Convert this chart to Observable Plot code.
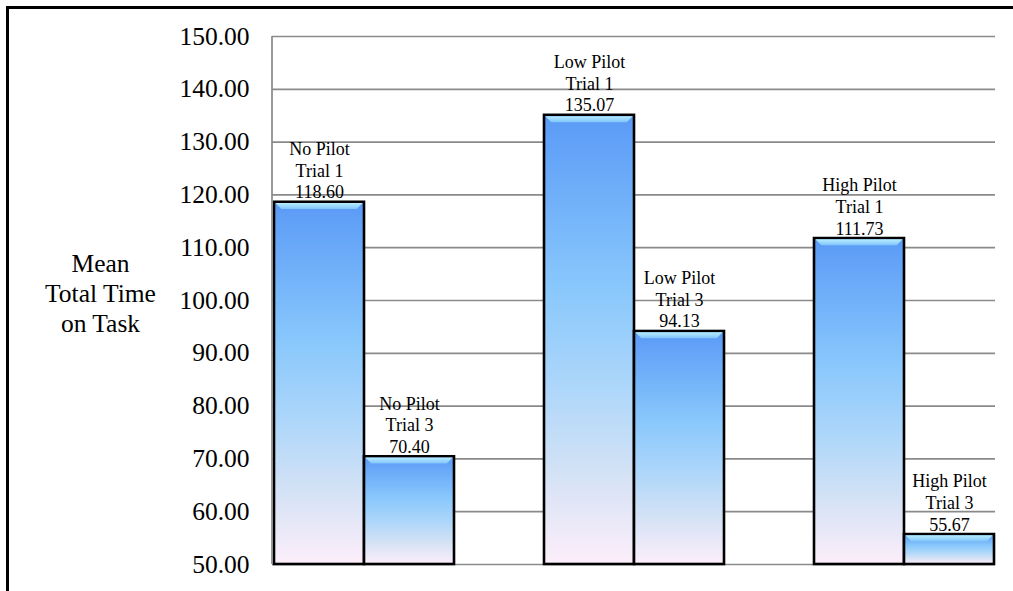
<!DOCTYPE html>
<html>
<head>
<meta charset="utf-8">
<script src="https://cdn.jsdelivr.net/npm/d3@7"></script>
<script src="https://cdn.jsdelivr.net/npm/@observablehq/plot@0.6"></script>
<style>
  html, body { margin: 0; padding: 0; background: #fff; overflow: hidden; }
  #wrap { position: relative; width: 1013px; height: 591px; overflow: hidden; }
  #border { position: absolute; left: 6px; top: 6px; width: 1100px; height: 700px; border-top: 3px solid #000; border-left: 3px solid #000; }
  #chart { position: absolute; left: 0; top: 0; }
  #chart svg, #chart svg text { font-family: 'Liberation Serif', 'Times New Roman', serif !important; }
</style>
</head>
<body>
<div id="wrap"><div id="border"></div><div id="chart"></div></div>
<script>
const groups = ["No Pilot", "Low Pilot", "High Pilot"];
const trials = ["Trial 1", "Trial 3"];
const trial1Values = [118.60, 135.07, 111.73];
const trial3Values = [70.40, 94.13, 55.67];
const yTicks = [50, 60, 70, 80, 90, 100, 110, 120, 130, 140, 150];
const yLabel = "Mean\nTotal Time\non Task";

const seriesValues = [trial1Values, trial3Values];
const data = groups.flatMap((g, i) => trials.map((t, j) => ({
  group: g, trial: t, value: seriesValues[j][i], key: `${g} ${t}`
})));
// band domain: the two trials of each group, with an empty slot between groups
const xDomain = groups.flatMap((g, i) => [...(i ? [`gap ${i}`] : []), ...trials.map(t => `${g} ${t}`)]);
const fmt = d3.format(".2f");
const font = "'Liberation Serif', 'Times New Roman', serif";

const plot = Plot.plot({
  width: 1013,
  height: 591,
  marginLeft: 272,
  marginRight: 18,
  marginTop: 36,
  marginBottom: 27,
  style: { fontFamily: font, background: "transparent", overflow: "visible" },
  x: { domain: xDomain, padding: 0, axis: null },
  y: { domain: [yTicks[0], yTicks[yTicks.length - 1]], ticks: yTicks, tickFormat: fmt, tickSize: 0, tickPadding: 23, label: null, fontSize: 25.5 },
  marks: [
    Plot.ruleY(yTicks, { stroke: "#8a8a8a", strokeWidth: 1.7 }),
    Plot.barY(data, {
      x: "key", y1: yTicks[0], y2: "value",
      fill: "url(#barGrad)", stroke: "#000", strokeWidth: 2.6,
      className: "bars"
    }),
    Plot.text(data, {
      x: "key", y: "value",
      text: d => `${d.group}\n${d.trial}\n${fmt(d.value)}`,
      lineAnchor: "bottom", lineHeight: 1.2, dy: -4,
      fontSize: 18, fill: "#000", fontFamily: font
    }),
    Plot.text([yLabel], {
      frameAnchor: "left", text: d => d, dx: -172, dy: -8,
      textAnchor: "middle", lineAnchor: "middle", lineHeight: 1.17,
      fontSize: 25.5, fill: "#000", fontFamily: font
    })
  ]
});

const svg = d3.select(plot);
svg.selectAll("g[aria-label='y-axis tick label'] text, g[aria-label='y-axis'] text")
  .attr("fill", "#000").style("font-size", "25.5px");

// gradient definitions
const defs = svg.insert("defs", ":first-child");
const g1 = defs.append("linearGradient").attr("id", "barGrad").attr("x1", 0).attr("y1", 0).attr("x2", 0).attr("y2", 1);
[[0, "#5a9af6"], [0.38, "#88c7fc"], [0.6, "#acd6fa"], [0.8, "#d4e2f5"], [1, "#fdeefa"]]
  .forEach(([o, c]) => g1.append("stop").attr("offset", o).attr("stop-color", c));
const g2 = defs.append("linearGradient").attr("id", "bevelGrad").attr("x1", 0).attr("y1", 0).attr("x2", 0).attr("y2", 1);
[[0, "#b8ecfe"], [1, "#7fc4fa"]].forEach(([o, c]) => g2.append("stop").attr("offset", o).attr("stop-color", c));

// bevel on top edge of each bar (positions)
svg.selectAll("g.bars rect").each(function () {
  const r = d3.select(this);
  const x = +r.attr("x"), y = +r.attr("y"), w = +r.attr("width");
  const s = 1.3, b = 6;
  d3.select(this.parentNode).append("polygon")
    .attr("points", [[x + s, y + s], [x + w - s, y + s], [x + w - s - b, y + s + b], [x + s + b, y + s + b]].map(p => p.join(",")).join(" "))
    .attr("fill", "url(#bevelGrad)").attr("stroke", "none");
});

// vertical axis line along the left of the frame
const ys = plot.scale("y"), xs = plot.scale("x");
svg.append("line")
  .attr("x1", xs.range[0]).attr("x2", xs.range[0])
  .attr("y1", ys.apply(yTicks[0])).attr("y2", ys.apply(yTicks[yTicks.length - 1]))
  .attr("stroke", "#8a8a8a").attr("stroke-width", 1.7);

document.getElementById("chart").appendChild(plot);
</script>
</body>
</html>
